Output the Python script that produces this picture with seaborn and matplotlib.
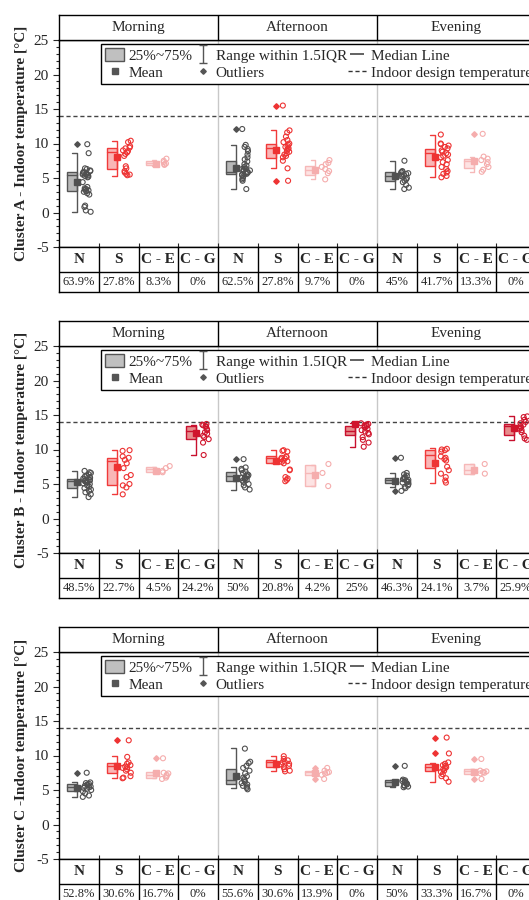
import numpy as np
import pandas as pd
import matplotlib
matplotlib.use("Agg")
import matplotlib.pyplot as plt
from matplotlib.patches import Rectangle, Patch
from matplotlib.lines import Line2D
from matplotlib.path import Path
import seaborn as sns

# ---- data ----
periods = ["Morning", "Afternoon", "Evening"]
types = ["N", "S", "C - E", "C - G"]
nan = np.nan

# box stats, order: Morning N,S,C-E,C-G | Afternoon ... | Evening ...
A_q1 = [3.1, 6.3, 6.9, nan, 5.6, 7.9, 5.4, nan, 4.6, 6.7, 6.5, nan]
A_q3 = [5.8, 9.3, 7.4, nan, 7.4, 9.9, 6.8, nan, 5.8, 9.2, 7.8, nan]
A_med = [5.4, 8.7, 7.2, nan, 5.9, 9.3, 6.2, nan, 5.3, 8.6, 7.5, nan]
A_mean = [4.4, 8.0, 7.0, nan, 6.5, 9.1, 6.1, nan, 5.3, 8.0, 7.5, nan]
A_lo = [0.1, 5.3, 6.8, nan, 3.4, 6.4, 4.8, nan, 3.4, 5.1, 5.9, nan]
A_hi = [8.6, 10.4, 7.6, nan, 9.8, 11.9, 7.6, nan, 7.5, 11.3, 8.1, nan]

B_q1 = [4.4, 4.9, 6.7, 11.5, 5.5, 8.0, 4.7, 12.1, 5.1, 7.3, 6.4, 12.1]
B_q3 = [5.7, 8.7, 7.5, 13.4, 6.8, 9.0, 7.8, 13.4, 5.8, 9.9, 7.9, 13.7]
B_med = [5.5, 8.3, 7.2, 12.7, 6.2, 8.7, 6.6, 12.7, 5.6, 9.2, 7.1, 13.4]
B_mean = [5.3, 7.4, 6.9, 12.4, 5.9, 8.3, 6.3, 13.7, 5.4, 8.1, 7.1, 13.1]
B_lo = [3.1, 3.5, 6.7, 9.2, 4.1, 8.0, 4.7, 10.4, 4.6, 5.2, 6.4, 11.4]
B_hi = [6.9, 9.9, 7.5, 13.6, 7.4, 9.9, 7.8, 13.9, 6.6, 10.2, 7.9, 14.8]

C_q1 = [4.8, 7.5, 6.7, nan, 5.8, 8.4, 7.2, nan, 5.6, 7.7, 7.3, nan]
C_q3 = [5.8, 8.9, 7.6, nan, 8.0, 9.4, 7.8, nan, 6.5, 8.8, 8.0, nan]
C_med = [5.5, 8.5, 7.2, nan, 6.5, 9.1, 7.6, nan, 6.1, 8.4, 7.7, nan]
C_mean = [5.3, 8.5, 7.5, nan, 7.0, 8.8, 7.5, nan, 6.1, 8.4, 7.6, nan]
C_lo = [4.0, 6.7, 6.7, nan, 5.3, 7.7, 7.2, nan, 5.4, 6.2, 7.3, nan]
C_hi = [6.2, 10.0, 7.6, nan, 11.1, 10.0, 7.8, nan, 6.5, 8.9, 8.0, nan]

A_out = {("Morning", "N"): [9.9], ("Afternoon", "N"): [12.1],
         ("Afternoon", "S"): [15.5, 4.6], ("Evening", "C - E"): [11.4]}
B_out = {("Afternoon", "N"): [8.6], ("Evening", "N"): [8.8, 4.0]}
C_out = {("Morning", "N"): [7.5], ("Morning", "S"): [12.2], ("Morning", "C - E"): [9.6],
         ("Afternoon", "C - E"): [8.2, 6.6], ("Evening", "N"): [8.5],
         ("Evening", "S"): [12.6, 10.3], ("Evening", "C - E"): [9.5, 6.6]}

A_pts = {
    ("Morning", "N"): [9.9, 8.6, 6.4, 6.3, 6.1, 6.0, 5.9, 5.8, 5.7, 5.6, 5.5, 5.5, 5.4, 5.3, 5.2,
                       5.1, 4.4, 3.7, 3.5, 3.4, 3.3, 3.2, 3.1, 3.0, 2.8, 2.6, 1.0, 0.8, 0.3, 0.1],
    ("Morning", "S"): [10.4, 10.2, 9.6, 9.4, 9.3, 9.0, 8.9, 8.7, 8.5, 8.2, 6.7, 6.4, 6.0, 5.8, 5.6, 5.5, 5.4],
    ("Morning", "C - E"): [6.9, 7.0, 7.1, 7.3, 7.5, 7.8],
    ("Afternoon", "N"): [12.1, 9.8, 9.5, 9.2, 8.9, 8.4, 8.0, 7.7, 7.4, 7.0, 6.8, 6.6, 6.4, 6.3, 6.2,
                         6.1, 6.0, 5.9, 5.8, 5.8, 5.7, 5.6, 5.5, 5.4, 5.2, 5.0, 4.8, 4.6, 3.4],
    ("Afternoon", "S"): [15.5, 11.9, 11.6, 11.0, 10.5, 10.2, 10.0, 9.8, 9.6, 9.5, 9.3, 9.2, 9.0,
                         8.8, 8.6, 8.4, 8.2, 8.0, 7.5, 6.4, 4.6],
    ("Afternoon", "C - E"): [7.6, 7.2, 7.0, 6.6, 6.3, 6.0, 5.7, 4.8],
    ("Evening", "N"): [7.5, 6.0, 5.9, 5.8, 5.7, 5.6, 5.5, 5.4, 5.3, 5.2, 5.0, 4.8, 4.6, 4.4, 4.0, 3.6, 3.4],
    ("Evening", "S"): [11.3, 10.0, 9.9, 9.7, 9.5, 9.3, 9.0, 8.8, 8.6, 8.4, 8.2, 8.0, 7.6, 7.3, 7.0,
                       6.6, 6.3, 6.0, 5.8, 5.6, 5.3, 5.1],
    ("Evening", "C - E"): [11.4, 8.1, 7.8, 7.6, 7.3, 7.0, 6.6, 6.2, 5.9],
}
B_pts = {
    ("Morning", "N"): [6.9, 6.7, 6.6, 6.4, 6.2, 6.1, 6.0, 5.9, 5.8, 5.7, 5.6, 5.5, 5.5, 5.4, 5.3,
                       5.2, 5.1, 5.0, 4.8, 4.6, 4.4, 4.2, 4.0, 3.8, 3.5, 3.1],
    ("Morning", "S"): [9.9, 9.8, 9.0, 8.8, 8.5, 8.0, 7.3, 6.3, 6.0, 5.0, 4.8, 4.5, 3.5],
    ("Morning", "C - E"): [7.6, 7.3, 6.9, 6.7],
    ("Morning", "C - G"): [13.7, 13.6, 13.5, 13.4, 13.3, 13.0, 12.8, 12.5, 12.3, 12.0, 11.8, 11.5, 11.0, 9.2],
    ("Afternoon", "N"): [8.6, 7.4, 7.2, 7.0, 6.8, 6.6, 6.4, 6.3, 6.2, 6.1, 6.0, 5.9, 5.8, 5.7, 5.6,
                         5.5, 5.3, 5.0, 4.8, 4.5, 4.2],
    ("Afternoon", "S"): [9.9, 9.8, 9.7, 9.0, 8.9, 8.8, 8.7, 8.6, 8.4, 8.3, 8.2, 8.0, 7.1, 7.0, 6.0, 5.8, 5.6, 5.4],
    ("Afternoon", "C - E"): [7.9, 6.6, 4.7],
    ("Afternoon", "C - G"): [13.8, 13.7, 13.6, 13.5, 13.4, 13.2, 13.0, 12.8, 12.6, 12.4, 12.2, 11.8, 11.4, 11.0, 10.4],
    ("Evening", "N"): [8.8, 6.6, 6.4, 6.2, 6.0, 5.9, 5.8, 5.7, 5.6, 5.5, 5.4, 5.3, 5.2, 5.0, 4.8, 4.6, 4.4, 4.0],
    ("Evening", "S"): [10.1, 10.0, 9.9, 9.7, 9.0, 8.8, 8.6, 8.4, 7.5, 7.0, 6.5, 6.0, 5.5, 5.2],
    ("Evening", "C - E"): [7.9, 6.5],
    ("Evening", "C - G"): [14.8, 14.7, 14.3, 14.0, 13.8, 13.6, 13.4, 13.2, 13.0, 12.8, 12.5, 12.0, 11.6, 11.4],
}
C_pts = {
    ("Morning", "N"): [7.5, 6.1, 6.0, 5.9, 5.8, 5.7, 5.6, 5.5, 5.4, 5.3, 5.2, 5.0, 4.8, 4.5, 4.2, 4.0],
    ("Morning", "S"): [12.2, 9.8, 9.0, 8.8, 8.6, 8.4, 8.3, 8.2, 8.0, 7.8, 7.5, 7.0, 6.8, 6.7],
    ("Morning", "C - E"): [9.6, 7.5, 7.4, 7.2, 7.0, 6.8, 6.6],
    ("Afternoon", "N"): [11.0, 9.1, 8.9, 8.5, 8.2, 7.8, 7.4, 7.0, 6.8, 6.6, 6.4, 6.2, 6.0, 5.8, 5.6, 5.5, 5.3, 5.1],
    ("Afternoon", "S"): [9.9, 9.5, 9.3, 9.1, 9.0, 8.8, 8.7, 8.5, 8.3, 8.0, 7.8, 7.7],
    ("Afternoon", "C - E"): [8.2, 7.8, 7.6, 7.5, 7.4, 7.2, 6.6],
    ("Evening", "N"): [8.5, 6.5, 6.4, 6.3, 6.2, 6.1, 6.0, 5.9, 5.8, 5.7, 5.6, 5.5, 5.4],
    ("Evening", "S"): [12.6, 10.3, 9.0, 8.8, 8.6, 8.5, 8.3, 8.2, 8.0, 7.8, 7.6, 7.3, 7.0, 6.7, 6.2],
    ("Evening", "C - E"): [9.5, 7.8, 7.7, 7.6, 7.5, 7.4, 6.6],
}

A_pct = ["63.9%", "27.8%", "8.3%", "0%", "62.5%", "27.8%", "9.7%", "0%", "45%", "41.7%", "13.3%", "0%"]
B_pct = ["48.5%", "22.7%", "4.5%", "24.2%", "50%", "20.8%", "4.2%", "25%", "46.3%", "24.1%", "3.7%", "25.9%"]
C_pct = ["52.8%", "30.6%", "16.7%", "0%", "55.6%", "30.6%", "13.9%", "0%", "50%", "33.3%", "16.7%", "0%"]

design_temp = 14

# ---- styling ----
box_edge = {"N": "#555555", "S": "#f03a3a", "C - E": "#f6b8b8", "C - G": "#c8102e"}
box_fill = {"N": "#b8b8b8", "S": "#f9b6b6", "C - E": "#fde3e3", "C - G": "#e68c8c"}
pt_col = {"N": "#505050", "S": "#ee3333", "C - E": "#f5adad", "C - G": "#d0142c"}

sns.set_style("ticks")
plt.rcParams["font.family"] = ["Liberation Serif", "DejaVu Serif"]
plt.rcParams["axes.unicode_minus"] = False
np.random.seed(3)

W, H = 529, 900
L = 59 / W
AW = 477 / W
fig = plt.figure(figsize=(W / 100, H / 100), dpi=100)

ibeam = Path([(-0.4, -1), (0.4, -1), (0, -1), (0, 1), (-0.4, 1), (0.4, 1)],
             [Path.MOVETO, Path.LINETO, Path.MOVETO, Path.LINETO, Path.MOVETO, Path.LINETO])


def draw_panel(top, ylabel, q1, q3, med, mean, lo, hi, outl, pts, pcts):
    ax = fig.add_axes([L, 1 - (top + 207) / H, AW, 207 / H])
    hd = fig.add_axes([L, 1 - top / H, AW, 25 / H])
    tb = fig.add_axes([L, 1 - (top + 252) / H, AW, 45 / H])

    rows = []
    for (per, typ), vals in pts.items():
        pos = periods.index(per) * 4 + types.index(typ)
        for v in vals:
            rows.append((pos + 0.2, v, typ))
    df = pd.DataFrame(rows, columns=["pos", "temp", "type"])
    sns.stripplot(data=df, x="pos", y="temp", hue="type", palette=pt_col,
                  native_scale=True, jitter=0.11, size=3.6, linewidth=0.8,
                  orient="x", legend=False, ax=ax, zorder=3)
    for c in ax.collections:
        c.set_edgecolors(c.get_facecolors())
        c.set_facecolors("none")

    for i in range(12):
        if np.isnan(q1[i]):
            continue
        per, typ = periods[i // 4], types[i % 4]
        ec, fc = box_edge[typ], box_fill[typ]
        x0 = i - 0.3
        ax.add_patch(Rectangle((x0, q1[i]), 0.25, q3[i] - q1[i], facecolor=fc,
                               edgecolor=ec, lw=1.0, zorder=3))
        ax.plot([x0, x0 + 0.25], [med[i], med[i]], color=ec, lw=1.0, zorder=4)
        xw = i - 0.05
        ax.plot([xw - 0.12, xw, xw, xw - 0.12], [lo[i], lo[i], hi[i], hi[i]],
                color=ec, lw=1.0, zorder=4)
        ax.plot(xw, mean[i], "s", color=pt_col[typ], ms=4.5, zorder=5)
        for v in outl.get((per, typ), []):
            ax.plot(xw, v, "D", color=pt_col[typ], ms=2.8, zorder=5)

    ax.axvline(3.5, color="#c8c8c8", lw=1, zorder=0)
    ax.axvline(7.5, color="#c8c8c8", lw=1, zorder=0)
    ax.axhline(design_temp, color="#444444", lw=1, ls=(0, (3, 2)), zorder=1)

    ax.set_xlim(-0.5, 11.5)
    ax.set_ylim(-5, 25)
    ax.set_yticks(range(-5, 30, 5))
    ax.set_yticks(range(-5, 26), minor=True)
    ax.set_xticks([k + 0.5 for k in range(11)])
    ax.set_xticks([], minor=True)
    ax.tick_params(axis="x", direction="in", length=3, labelbottom=False, width=0.8)
    ax.tick_params(axis="y", which="major", direction="out", length=4.3, width=0.8,
                   labelsize=11, pad=3)
    ax.tick_params(axis="y", which="minor", direction="out", length=2.2, width=0.8)
    ax.set_xlabel("")
    ax.set_ylabel(ylabel, fontsize=11, fontweight="bold")
    ax.yaxis.set_label_coords(-0.066, 0.5)
    for s in ax.spines.values():
        s.set_color("black")
        s.set_linewidth(1.0)

    handles = [Patch(facecolor="#c0c0c0", edgecolor="#555555", lw=1),
               Line2D([], [], ls="none", marker="s", color="#555555", ms=4.5),
               Line2D([], [], ls="none", marker=ibeam, color="#555555", ms=13, mew=1,
                      fillstyle="none"),
               Line2D([], [], ls="none", marker="D", color="#555555", ms=2.8),
               Line2D([], [], ls="none", marker="_", color="#555555", ms=10, mew=1.3),
               Line2D([], [], color="#333333", lw=1, ls=(0, (3, 2)))]
    labels = ["25%~75%", "Mean", "Range within 1.5IQR", "Outliers",
              "Median Line", "Indoor design temperature"]
    leg = ax.legend(handles, labels, ncol=3, loc="upper left",
                    bbox_to_anchor=((101 - 59) / 477, 1 - 4 / 207), borderaxespad=0,
                    frameon=True, fancybox=False, edgecolor="black", framealpha=1,
                    fontsize=11, handlelength=1.25, handleheight=0.9, handletextpad=0.25,
                    columnspacing=0.05, labelspacing=0.15, borderpad=0.28)
    leg.get_frame().set_linewidth(1.0)

    # header row
    hd.set_xlim(-0.5, 11.5)
    hd.set_ylim(0, 1)
    hd.set_xticks([])
    hd.set_yticks([])
    for g, per in enumerate(periods):
        hd.text(g * 4 + 1.5, 0.5, per, ha="center", va="center", fontsize=11)
    for xv in (3.5, 7.5):
        hd.axvline(xv, color="black", lw=1.0)
    for s in hd.spines.values():
        s.set_color("black")
        s.set_linewidth(1.0)

    # table rows
    tb.set_xlim(-0.5, 11.5)
    tb.set_ylim(0, 45)
    tb.set_xticks([])
    tb.set_yticks([])
    tb.axhline(20, color="black", lw=1.0)
    for k in range(11):
        tb.axvline(k + 0.5, color="black", lw=1.0)
    for i in range(12):
        tb.text(i, 32.5, types[i % 4], ha="center", va="center", fontsize=11,
                fontweight="bold")
        tb.text(i, 10, pcts[i], ha="center", va="center", fontsize=9)
    for s in tb.spines.values():
        s.set_color("black")
        s.set_linewidth(1.0)


draw_panel(40, "Cluster A - Indoor temperature [°C]", A_q1, A_q3, A_med, A_mean,
           A_lo, A_hi, A_out, A_pts, A_pct)
draw_panel(346, "Cluster B - Indoor temperature [°C]", B_q1, B_q3, B_med, B_mean,
           B_lo, B_hi, B_out, B_pts, B_pct)
draw_panel(652, "Cluster C -Indoor temperature [°C]", C_q1, C_q3, C_med, C_mean,
           C_lo, C_hi, C_out, C_pts, C_pct)

fig.savefig("out.png", dpi=100)
